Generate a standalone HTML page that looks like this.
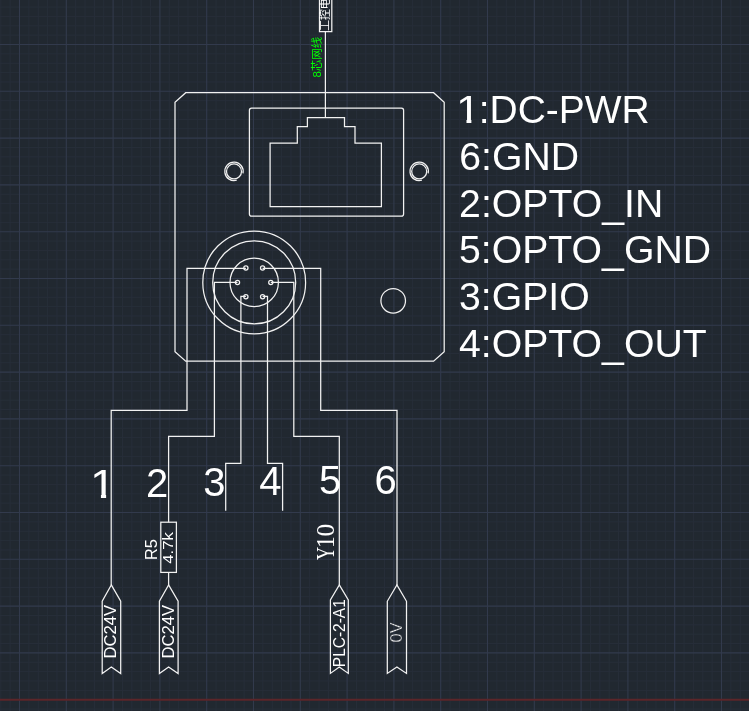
<!DOCTYPE html>
<html lang="zh"><head><meta charset="utf-8"><title>camera wiring</title>
<style>
html,body{margin:0;padding:0;background:#212830;}
body{width:749px;height:711px;overflow:hidden;}
svg{display:block;will-change:transform}
.s{font-family:"Liberation Sans",sans-serif;fill:#fff}
.r{font-family:"Liberation Serif",serif;fill:#fff}
.c{font-family:"Liberation Sans","Noto Sans CJK SC",sans-serif}
.w{fill:none;stroke:#f2f2f2;stroke-width:1.25;stroke-linejoin:miter}
</style></head><body>
<svg width="749" height="711" viewBox="0 0 749 711">
<rect width="749" height="711" fill="#212830"/>
<path d="M0.78 0V711M10.14 0V711M28.86 0V711M38.22 0V711M47.58 0V711M56.94 0V711M75.66 0V711M85.02 0V711M94.38 0V711M103.74 0V711M122.46 0V711M131.82 0V711M141.18 0V711M150.54 0V711M169.26 0V711M178.62 0V711M187.98 0V711M197.34 0V711M216.06 0V711M225.42 0V711M234.78 0V711M244.14 0V711M262.86 0V711M272.22 0V711M281.58 0V711M290.94 0V711M309.66 0V711M319.02 0V711M328.38 0V711M337.74 0V711M356.46 0V711M365.82 0V711M375.18 0V711M384.54 0V711M403.26 0V711M412.62 0V711M421.98 0V711M431.34 0V711M450.06 0V711M459.42 0V711M468.78 0V711M478.14 0V711M496.86 0V711M506.22 0V711M515.58 0V711M524.94 0V711M543.66 0V711M553.02 0V711M562.38 0V711M571.74 0V711M590.46 0V711M599.82 0V711M609.18 0V711M618.54 0V711M637.26 0V711M646.62 0V711M655.98 0V711M665.34 0V711M684.06 0V711M693.42 0V711M702.78 0V711M712.14 0V711M730.86 0V711M740.22 0V711M0 7.06H749M0 16.42H749M0 25.78H749M0 35.14H749M0 53.86H749M0 63.22H749M0 72.58H749M0 81.94H749M0 100.66H749M0 110.02H749M0 119.38H749M0 128.74H749M0 147.46H749M0 156.82H749M0 166.18H749M0 175.54H749M0 194.26H749M0 203.62H749M0 212.98H749M0 222.34H749M0 241.06H749M0 250.42H749M0 259.78H749M0 269.14H749M0 287.86H749M0 297.22H749M0 306.58H749M0 315.94H749M0 334.66H749M0 344.02H749M0 353.38H749M0 362.74H749M0 381.46H749M0 390.82H749M0 400.18H749M0 409.54H749M0 428.26H749M0 437.62H749M0 446.98H749M0 456.34H749M0 475.06H749M0 484.42H749M0 493.78H749M0 503.14H749M0 521.86H749M0 531.22H749M0 540.58H749M0 549.94H749M0 568.66H749M0 578.02H749M0 587.38H749M0 596.74H749M0 615.46H749M0 624.82H749M0 634.18H749M0 643.54H749M0 662.26H749M0 671.62H749M0 680.98H749M0 690.34H749M0 709.06H749" stroke="#272e39" stroke-width="1" fill="none"/>
<path d="M19.50 0V711M66.30 0V711M113.10 0V711M159.90 0V711M206.70 0V711M253.50 0V711M300.30 0V711M347.10 0V711M393.90 0V711M440.70 0V711M487.50 0V711M534.30 0V711M581.10 0V711M627.90 0V711M674.70 0V711M721.50 0V711M0 44.50H749M0 91.30H749M0 138.10H749M0 184.90H749M0 231.70H749M0 278.50H749M0 325.30H749M0 372.10H749M0 418.90H749M0 465.70H749M0 512.50H749M0 559.30H749M0 606.10H749M0 652.90H749" stroke="#323a4c" stroke-width="1.1" fill="none"/>
<path d="M0 699.70H749" stroke="#5c2529" stroke-width="2" fill="none"/>
<g class="w">
<!-- camera body -->
<path d="M185.7 92.7H433.6L444.2 102.2V351.6L433.6 361.1H185.7L175 351.6V102.2Z"/>
<!-- RJ45 -->
<rect x="249.4" y="108.1" width="154.2" height="108" rx="2.2"/>
<path d="M270.1 206.6V143.1H297.3V126.6H307.4V117.6H344.5V126.6H355V143.1H381.4V206.6Z"/>
<!-- screws -->
<circle cx="234" cy="171.4" r="7.5"/>
<path d="M243 171.4V173.3A9.2 9.2 0 1 0 236.7 180.2"/>
<circle cx="419.2" cy="171.4" r="7.5"/>
<path d="M428.2 171.4V173.3A9.2 9.2 0 1 0 421.9 180.2"/>
<!-- round connector -->
<circle cx="254.2" cy="282.4" r="51.4"/>
<circle cx="254.2" cy="282.4" r="41.5"/>
<circle cx="254.2" cy="282.4" r="24.2"/>
<circle cx="245.9" cy="267.9" r="2.1"/>
<circle cx="262.6" cy="267.9" r="2.1"/>
<circle cx="237.5" cy="282.4" r="2.1"/>
<circle cx="270.8" cy="282.4" r="2.1"/>
<circle cx="245.9" cy="296.7" r="2.1"/>
<circle cx="262.6" cy="296.7" r="2.1"/>
<circle cx="393.2" cy="300.8" r="12.3"/>
<!-- cable to PC -->
<path d="M325.4 31.7V117.6"/>
<path d="M319.5 -2V31.6H331.8V-2"/>
<!-- wires -->
<path d="M245.9 268.3H187V410.3H111.2V585"/>
<path d="M237.5 282.4H214.4V436.4H168.6V522.2M168.6 572.4V585"/>
<path d="M245.9 296.3H240.9V463.3H225.7V510.7"/>
<path d="M262.6 296.3H267.5V463.3H282.6V510.7"/>
<path d="M270.8 282.4H293.8V436.4H339.3V585"/>
<path d="M262.6 268.3H320.7V410.3H397V585"/>
<!-- resistor -->
<rect x="160.8" y="522.2" width="15.6" height="50.2"/>
<!-- tags -->
<path d="M111.3 584.9L120.7 601.1V673.5L111.3 666.9L102.2 673.5V601.1Z"/>
<path d="M168.6 584.9L178.1 601.1V673.5L168.6 666.9L159.4 673.5V601.1Z"/>
<path d="M339.3 584.9L348.3 599.9V673.4L339.3 667L330.4 673.4V599.9Z"/>
<path d="M396.9 584.9L406.5 601.3V673.4L396.9 667L387.3 673.4V601.3Z"/>
</g>
<!-- pin numbers -->
<g class="s" font-size="40">
<text transform="translate(89.9 497.7) scale(1.15 1)" clip-path="url(#nofoot2)">1</text>
<text x="146.1" y="497">2</text>
<text x="203.3" y="496">3</text>
<text x="259.3" y="494.5">4</text>
<text x="318.9" y="494.4">5</text>
<text x="374.5" y="494">6</text>
</g>
<defs><clipPath id="nofoot2"><path d="M-2 -33H24V-3.4H14.1V2H9.6V-3.4H-2Z"/></clipPath></defs>
<!-- legend -->
<defs><clipPath id="nofoot1"><path d="M-2 -32H24V-3.3H13.6V2H9.3V-3.3H-2Z"/></clipPath></defs>
<g class="s" font-size="38.6">
<text transform="translate(455.9 123.1) scale(1.138 1)" clip-path="url(#nofoot1)">1</text><text transform="translate(478.7 123.1) scale(1.009 1)">:DC-PWR</text>
<text transform="translate(459.3 170) scale(1.016 1)">6:GND</text>
<text transform="translate(459.1 216.9) scale(1.016 1)">2:OPTO_IN</text>
<text transform="translate(459 262.6) scale(1.016 1)">5:OPTO_GND</text>
<text transform="translate(459 309.6) scale(1.016 1)">3:GPIO</text>
<text transform="translate(459 356.9) scale(1.016 1)">4:OPTO_OUT</text>
</g>
<!-- rotated labels -->
<g class="s">
<text transform="translate(116.2 658.4) rotate(-90)" font-size="16.6">DC24V</text>
<text transform="translate(174.3 658.4) rotate(-90)" font-size="16.6">DC24V</text>
<text transform="translate(345 667.2) rotate(-90)" font-size="16.2" textLength="68" lengthAdjust="spacingAndGlyphs">PLC-2-A1</text>
<text transform="translate(401.9 642.4) rotate(-90) scale(0.96 1)" font-size="17" stroke="#212830" stroke-width="0.45">0V</text>
<text transform="translate(156.9 560) rotate(-90)" font-size="16.4">R5</text>
<text transform="translate(173 563.7) rotate(-90)" font-size="14" textLength="31.6" lengthAdjust="spacingAndGlyphs">4.7k</text>
</g>
<g class="r" font-size="26"><text transform="translate(334.2 560) rotate(-90) scale(0.7 1)">Y</text><text transform="translate(334.2 548.1) rotate(-90) scale(0.9 1)">1</text><text transform="translate(334.2 536.4) rotate(-90) scale(0.97 1)">0</text></g>
<text class="c" fill="#00ff00" transform="translate(320.8 77.6) rotate(-90)" font-size="11.5">8芯网线</text>
<text class="c" fill="#fff" transform="translate(328.9 30.8) rotate(-90)" font-size="10.8">工控电脑</text>
</svg>
</body></html>
